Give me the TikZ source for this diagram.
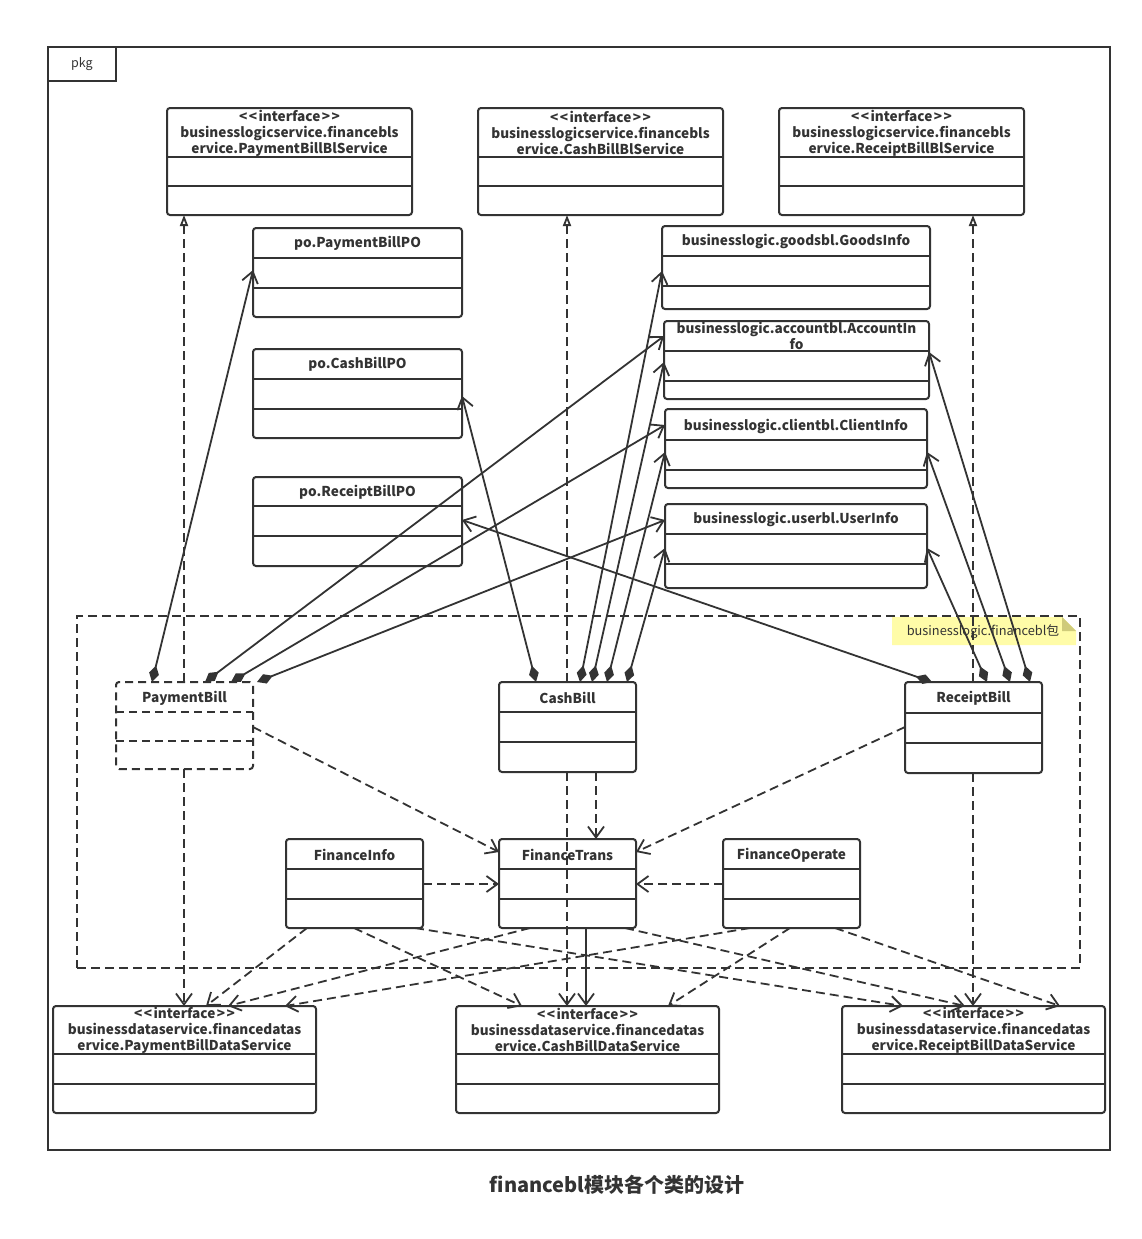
\documentclass[tikz,border=0pt]{standalone}
\usepackage{fontspec}
\setmainfont{Noto Sans CJK SC}
\usetikzlibrary{arrows.meta}
\definecolor{ink}{HTML}{333333}
\definecolor{notey}{HTML}{FFFCA8}
\definecolor{notef}{HTML}{CFCB7A}
\newcommand\stereo{<\kern1.5pt<\kern1.5pt interface\kern1.5pt>\kern1.5pt>}
\tikzset{
  curcls/.style={},
  clsbox/.style={draw=ink, line width=2pt, rounded corners=3pt, inner sep=0pt, outer sep=0pt, curcls},
  divl/.style={draw=ink, line width=2pt, curcls},
  ttl/.style={text=ink, font=\bfseries\fontsize{13.6}{16}\selectfont, align=center, inner sep=0pt},
  comp/.style={draw=ink, line width=1.8pt, arrows={Diamond[length=17pt,width=10pt]-Straight Barb[length=11pt,width=16pt]}},
  assoc/.style={draw=ink, line width=1.8pt, arrows={-Straight Barb[length=11pt,width=16pt]}},
  dep/.style={draw=ink, line width=1.8pt, dash pattern=on 9pt off 5pt, arrows={-Straight Barb[length=11pt,width=16pt]}},
  real/.style={draw=ink, line width=1.8pt, dash pattern=on 9pt off 5pt, arrows={-Triangle[open,length=11pt,width=8pt]}},
}
% name, x1, y1, x2, y2, div1, div2, title, title y
\newcommand\umlcls[9]{%
  \node[clsbox, minimum width={(#4)-(#2)}, minimum height={(#5)-(#3)}] (#1) at ({((#2)+(#4))/2},{((#3)+(#5))/2}) {};
  \draw[divl] (#1.west |- 0,#6) -- (#1.east |- 0,#6);
  \draw[divl] (#1.west |- 0,#7) -- (#1.east |- 0,#7);
  \node[ttl] (#1-t) at ({((#2)+(#4))/2},{(#9)+1}) {#8};
}
\begin{document}
\begin{tikzpicture}[x=1pt,y=-1pt]
\useasboundingbox (0,0) rectangle (1141,1239);
\fill[white] (0,0) rectangle (1141,1239);

% package frame
\node[draw=ink, line width=2pt, minimum width=1062, minimum height=1103, inner sep=0pt, outer sep=0pt] (pkg) at (579,598.5) {};
\node[draw=ink, line width=2pt, minimum width=68, minimum height=34, inner sep=0pt, outer sep=0pt, text=ink, font=\fontsize{12.5}{14}\selectfont] (pkgtab) at (82,64) {pkg};

% financebl package region
\node[draw=ink, line width=2pt, dash pattern=on 9pt off 5pt, minimum width=1003, minimum height=352, inner sep=0pt, outer sep=0pt] (fbl) at (578.5,792) {};
\fill[notey] (892,617) -- (1062,617) -- (1076,631) -- (1076,645) -- (892,645) -- cycle;
\fill[notef] (1062,617) -- (1076,631) -- (1062,631) -- cycle;
\node[text=ink, font=\fontsize{12.8}{14}\selectfont, inner sep=0pt] (note) at (983,632) {businesslogic.financebl包};

% interfaces (logic service)
\umlcls{pbbls}{167}{108}{412}{215}{157}{186}{\stereo\\businesslogicservice.financebls\\ervice.PaymentBillBlService}{132}
\umlcls{cbbls}{478}{108}{723}{215}{157}{186}{\stereo\\businesslogicservice.financebls\\ervice.CashBillBlService}{132}
\umlcls{rbbls}{779}{108}{1024}{215}{157}{186}{\stereo\\businesslogicservice.financebls\\ervice.ReceiptBillBlService}{132}

% PO classes
\umlcls{ppo}{253}{228}{462}{317}{258}{288}{po.PaymentBillPO}{242}
\umlcls{cpo}{253}{349}{462}{438}{379}{409}{po.CashBillPO}{363}
\umlcls{rpo}{253}{477}{462}{566}{506}{536}{po.ReceiptBillPO}{491}

% info classes
\umlcls{goods}{662}{226}{930}{309}{256}{286}{businesslogic.goodsbl.GoodsInfo}{240}
\umlcls{acc}{664}{321}{929}{399}{351}{381}{businesslogic.accountbl.AccountIn\\fo}{335}
\umlcls{cli}{665}{409}{927}{488}{440}{470}{businesslogic.clientbl.ClientInfo}{425}
\umlcls{usr}{665}{504}{927}{588}{534}{564}{businesslogic.userbl.UserInfo}{518}

% bills
\begin{scope}[curcls/.style={dash pattern=on 8pt off 5pt}]
\umlcls{pb}{116}{682}{253}{769}{712}{741}{PaymentBill}{697}
\end{scope}
\umlcls{cb}{499}{682}{636}{772}{712}{742}{CashBill}{697}
\umlcls{rb}{905}{682}{1042}{773}{713}{743}{ReceiptBill}{697}

% finance helpers
\umlcls{fi}{286}{839}{423}{928}{869}{899}{FinanceInfo}{854}
\umlcls{ft}{499}{839}{636}{928}{869}{899}{FinanceTrans}{854}
\umlcls{fo}{723}{839}{860}{928}{869}{899}{FinanceOperate}{854}

% data services
\umlcls{pbds}{53}{1006}{316}{1113}{1054}{1084}{\stereo\\businessdataservice.financedatas\\ervice.PaymentBillDataService}{1029}
\umlcls{cbds}{456}{1006}{719}{1113}{1054}{1084}{\stereo\\businessdataservice.financedatas\\ervice.CashBillDataService}{1029}
\umlcls{rbds}{842}{1006}{1105}{1113}{1054}{1084}{\stereo\\businessdataservice.financedatas\\ervice.ReceiptBillDataService}{1029}

% realizations
\draw[real] (pb.north -| 184,0) -- (pbbls.south -| 184,0);
\draw[real] (cb.north -| 567,0) -- (cbbls.south -| 567,0);
\draw[real] (rb.north -| 973,0) -- (rbbls.south -| 973,0);

% compositions
\draw[comp] (pb.north -| 152,0) -- (ppo.west |- 0,270);
\draw[comp] (pb.north -| 205,0) -- (acc.west |- 0,336);
\draw[comp] (pb.north -| 231,0) -- (cli.west |- 0,425);
\draw[comp] (pb.north -| 257,0) -- (usr.west |- 0,520);
\draw[comp] (cb.north -| 536,0) -- (cpo.east |- 0,396);
\draw[comp] (cb.north -| 580,0) -- (goods.west |- 0,271);
\draw[comp] (cb.north -| 592,0) -- (acc.west |- 0,362);
\draw[comp] (cb.north -| 607,0) -- (cli.west |- 0,452);
\draw[comp] (cb.north -| 627,0) -- (usr.west |- 0,548);
\draw[comp] (rb.north -| 932,0) -- (rpo.east |- 0,520);
\draw[comp] (rb.north -| 987,0) -- (usr.east |- 0,548);
\draw[comp] (rb.north -| 1010,0) -- (cli.east |- 0,452);
\draw[comp] (rb.north -| 1030,0) -- (acc.east |- 0,352);

% dependencies
\draw[dep] (pb.east |- 0,727) -- (ft.west |- 0,852);
\draw[dep] (rb.west |- 0,727) -- (ft.east |- 0,852);
\draw[dep] (cb.south -| 596,0) -- (ft.north -| 596,0);
\draw[dep] (cb.south -| 567,0) -- (cbds.north -| 567,0);
\draw[dep] (fi.east |- 0,884) -- (ft.west |- 0,884);
\draw[dep] (fo.west |- 0,884) -- (ft.east |- 0,884);
\draw[dep] (pb.south -| 184,0) -- (pbds.north -| 184,0);
\draw[dep] (rb.south -| 973,0) -- (rbds.north -| 973,0);
\draw[dep] (fi.south -| 307,0) -- (pbds.north -| 206,0);
\draw[dep] (fi.south -| 354,0) -- (cbds.north -| 522,0);
\draw[dep] (fi.south -| 415,0) -- (rbds.north -| 903,0);
\draw[dep] (ft.south -| 530,0) -- (pbds.north -| 228,0);
\draw[dep] (ft.south -| 625,0) -- (rbds.north -| 965,0);
\draw[dep] (fo.south -| 750,0) -- (pbds.north -| 285,0);
\draw[dep] (fo.south -| 790,0) -- (cbds.north -| 668,0);
\draw[dep] (fo.south -| 835,0) -- (rbds.north -| 1060,0);
\draw[assoc] (ft.south -| 586,0) -- (cbds.north -| 586,0);

% caption
\node[text=ink, font=\bfseries\fontsize{20}{24}\selectfont, inner sep=0pt] (cap) at (617,1185) {financebl模块各个类的设计};
\end{tikzpicture}
\end{document}
